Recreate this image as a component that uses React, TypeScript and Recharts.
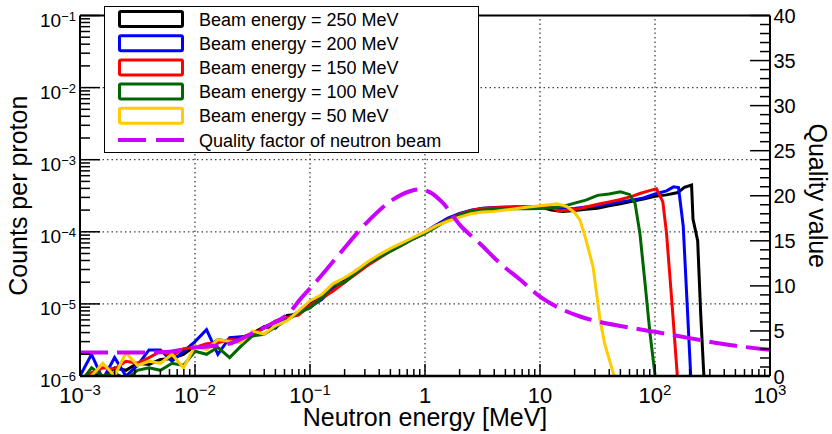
import { ComposedChart, Line, XAxis, YAxis, ReferenceLine, Legend, Label } from "recharts";

const FONT = '"Liberation Sans", Arial, Helvetica, sans-serif';

// bin centres shared by every spectrum up to 10 MeV
const energyGrid = [
  0.001, 0.00126, 0.00158, 0.002, 0.00251, 0.00316, 0.00398, 0.00501, 0.00631, 0.00794,
  0.01, 0.0126, 0.0158, 0.02, 0.0251, 0.0316, 0.0398, 0.0501, 0.0631, 0.0794,
  0.1, 0.126, 0.158, 0.2, 0.251, 0.316, 0.398, 0.501, 0.631, 0.794,
  1, 1.26, 1.58, 2, 2.51, 3.16, 3.98, 5.01, 6.31, 7.94, 10,
];

// counts per proton on energyGrid
const low250 = [
  0.9e-6, 1.1e-6, 0.95e-6, 1.3e-6, 1.2e-6, 1.5e-6, 1.45e-6, 1.7e-6, 1.75e-6, 2.0e-6,
  2.6e-6, 2.4e-6, 3.2e-6, 3.0e-6, 3.4e-6, 3.9e-6, 4.8e-6, 4.6e-6, 6.9e-6, 7.2e-6,
  1.0e-5, 1.3e-5, 1.6e-5, 2.2e-5, 2.8e-5, 3.6e-5, 4.5e-5, 5.6e-5, 6.7e-5, 8.2e-5,
  9.8e-5, 1.21e-4, 1.5e-4, 1.75e-4, 1.96e-4, 2.08e-4, 2.12e-4, 2.15e-4, 2.16e-4, 2.18e-4, 2.2e-4,
];
const low200 = [
  1.0e-6, 2.0e-6, 0.9e-6, 1.8e-6, 1.0e-6, 1.4e-6, 2.3e-6, 2.3e-6, 1.6e-6, 2.2e-6,
  3.0e-6, 4.4e-6, 2.0e-6, 3.4e-6, 3.5e-6, 3.6e-6, 4.8e-6, 5.5e-6, 6.2e-6, 7.8e-6,
  9.0e-6, 1.15e-5, 1.6e-5, 2.0e-5, 2.9e-5, 3.5e-5, 4.6e-5, 5.5e-5, 6.8e-5, 8.2e-5,
  9.9e-5, 1.25e-4, 1.55e-4, 1.8e-4, 2.0e-4, 2.12e-4, 2.18e-4, 2.2e-4, 2.22e-4, 2.22e-4, 2.22e-4,
];
const low150 = [
  0.8e-6, 1.1e-6, 1.3e-6, 1.25e-6, 1.6e-6, 1.5e-6, 1.8e-6, 2.2e-6, 1.9e-6, 2.4e-6,
  2.5e-6, 2.8e-6, 2.9e-6, 3.2e-6, 3.1e-6, 3.8e-6, 4.6e-6, 5.8e-6, 6.5e-6, 7.0e-6,
  9.5e-6, 1.2e-5, 1.5e-5, 2.0e-5, 2.6e-5, 3.4e-5, 4.3e-5, 5.4e-5, 6.6e-5, 8.0e-5,
  9.6e-5, 1.2e-4, 1.48e-4, 1.75e-4, 1.98e-4, 2.1e-4, 2.15e-4, 2.18e-4, 2.2e-4, 2.2e-4, 2.22e-4,
];
const low100 = [
  0.8e-6, 1.3e-6, 1.0e-6, 1.1e-6, 0.9e-6, 1.2e-6, 1.3e-6, 1.2e-6, 1.5e-6, 1.4e-6,
  2.2e-6, 2.0e-6, 2.5e-6, 1.8e-6, 2.6e-6, 3.6e-6, 3.8e-6, 4.8e-6, 6.0e-6, 7.5e-6,
  8.8e-6, 1.2e-5, 1.8e-5, 2.0e-5, 2.7e-5, 3.6e-5, 4.4e-5, 5.4e-5, 6.5e-5, 8.0e-5,
  9.5e-5, 1.18e-4, 1.45e-4, 1.72e-4, 1.92e-4, 2.0e-4, 2.05e-4, 2.08e-4, 2.1e-4, 2.08e-4, 2.1e-4,
];
const low50 = [
  0.7e-6, 1.0e-6, 1.5e-6, 1.0e-6, 2.1e-6, 1.4e-6, 1.6e-6, 1.5e-6, 2.0e-6, 1.3e-6,
  2.6e-6, 2.3e-6, 3.2e-6, 3.0e-6, 2.9e-6, 4.2e-6, 3.8e-6, 5.0e-6, 5.8e-6, 8.0e-6,
  1.1e-5, 1.35e-5, 1.9e-5, 2.3e-5, 2.9e-5, 3.8e-5, 4.8e-5, 5.9e-5, 7.0e-5, 8.4e-5,
  1.0e-4, 1.22e-4, 1.4e-4, 1.6e-4, 1.78e-4, 1.88e-4, 1.92e-4, 2.0e-4, 2.1e-4, 2.2e-4, 2.3e-4,
];

// high-energy part of each spectrum up to its cut-off
const tailE250 = [12.6, 15.8, 20, 25.1, 31.6, 39.8, 50.1, 63.1, 79.4, 100, 126, 158, 180, 208, 214, 235, 250, 268];
const tailC250 = [2.0e-4, 1.92e-4, 1.98e-4, 2.05e-4, 2.12e-4, 2.3e-4, 2.45e-4, 2.65e-4, 2.85e-4, 3.1e-4, 3.25e-4, 3.5e-4, 4.15e-4, 4.45e-4, 1.5e-4, 7.5e-5, 7e-6, 8e-7];
const tailE200 = [12.6, 15.8, 20, 25.1, 31.6, 39.8, 50.1, 63.1, 79.4, 100, 126, 145, 160, 164, 176, 190, 206];
const tailC200 = [2.15e-4, 2.05e-4, 2.1e-4, 2.2e-4, 2.3e-4, 2.45e-4, 2.6e-4, 2.75e-4, 2.95e-4, 3.35e-4, 3.7e-4, 4.2e-4, 4.1e-4, 3.0e-4, 1.2e-4, 1.05e-5, 8e-7];
const tailE150 = [12.6, 14.4, 17.8, 22.3, 28, 33.3, 40, 50, 63, 74, 88, 103, 117, 126, 140, 158];
const tailC150 = [2.2e-4, 1.95e-4, 2.0e-4, 2.1e-4, 2.3e-4, 2.45e-4, 2.6e-4, 2.8e-4, 3.1e-4, 3.4e-4, 3.7e-4, 3.95e-4, 2.6e-4, 9.5e-5, 1.1e-5, 8e-7];
const tailE100 = [12.6, 15.8, 20, 25.1, 31.6, 39.8, 50.1, 60, 67, 74, 82, 90.5, 102];
const tailC100 = [2.15e-4, 2.25e-4, 2.5e-4, 2.75e-4, 3.2e-4, 3.35e-4, 3.6e-4, 3.3e-4, 2.5e-4, 9.4e-5, 1.9e-5, 3.9e-6, 8e-7];
const tailE50 = [12.6, 14, 17, 20, 22.3, 25, 29, 33.3, 36.5, 40, 46];
const tailC50 = [2.4e-4, 2.45e-4, 2.25e-4, 1.85e-4, 1.45e-4, 8e-5, 3.2e-5, 6e-6, 2.8e-6, 1.7e-6, 8e-7];

const beamNames = [
  "Beam energy = 250 MeV",
  "Beam energy = 200 MeV",
  "Beam energy = 150 MeV",
  "Beam energy = 100 MeV",
  "Beam energy = 50 MeV",
];
const beamColors = ["#000000", "#0000ff", "#ff0000", "#006600", "#ffcc00"];
const qualityName = "Quality factor of neutron beam";
const qualityColor = "#cc00ff";

// quality factor (right axis)
const qualityEnergy = [
  0.001, 0.0018, 0.0033, 0.006, 0.0091, 0.0135, 0.02, 0.03, 0.045, 0.067, 0.082, 0.11,
  0.182, 0.31, 0.53, 0.74, 0.9, 1.1, 1.43, 2, 3, 4.5, 6.7, 10, 14.9, 22.3, 33.3, 50,
  100, 200, 367, 1000,
];
const qualityValue = [
  2.6, 2.6, 2.6, 2.7, 3.1, 3.3, 3.6, 4.6, 5.7, 7.1, 8.5, 10.3,
  13.6, 17.0, 19.6, 20.5, 20.7, 20.4, 19.2, 16.8, 14.7, 12.5, 10.7, 8.8, 7.5, 6.6, 6.0, 5.55,
  4.9, 4.2, 3.6, 2.9,
];

const xDecades = [0.001, 0.01, 0.1, 1, 10, 100, 1000];
const xLabelBase = ["10", "10", "10", "1", "10", "10", "10"];
const xLabelExp = ["\u22123", "\u22122", "\u22121", "", "", "2", "3"];
const yDecades = [1e-6, 1e-5, 1e-4, 1e-3, 1e-2, 1e-1];
const yLabelExp = ["\u22126", "\u22125", "\u22124", "\u22123", "\u22122", "\u22121"];
const qMax = 40;

const lows = [low250, low200, low150, low100, low50];
const tailsE = [tailE250, tailE200, tailE150, tailE100, tailE50];
const tailsC = [tailC250, tailC200, tailC150, tailC100, tailC50];

const spectra = beamNames.map((name, s) => {
  const e = [...energyGrid, ...tailsE[s]];
  const c = [...lows[s], ...tailsC[s]];
  return { name, color: beamColors[s], data: e.map((v, i) => ({ e: v, c: c[i] })) };
});
const qualityData = qualityEnergy.map((e, i) => ({ e, q: qualityValue[i] }));

function withMinors(decades: number[]) {
  const out: number[] = [];
  decades.forEach((d, i) => {
    if (i === decades.length - 1) {
      out.push(d);
      return;
    }
    for (let m = 1; m <= 9; m++) out.push(+(m * d).toPrecision(6));
  });
  return out;
}
const xTicks = withMinors(xDecades);
const yTicks = withMinors(yDecades);
const qTicks = Array.from({ length: qMax + 1 }, (_, i) => i);

const isDecade = (v: number) => {
  const l = Math.log10(v);
  return Math.abs(l - Math.round(l)) < 1e-6;
};
const decadeIndex = (list: number[], v: number) =>
  list.findIndex((d) => Math.abs(Math.log10(d) - Math.log10(v)) < 1e-6);

function XTick({ x, y, payload }: any) {
  const v = payload.value;
  const major = isDecade(v);
  const i = decadeIndex(xDecades, v);
  return (
    <g>
      <line x1={x} x2={x} y1={y} y2={y - (major ? 12 : 7)} stroke="#000" strokeWidth={1.5} />
      {major && i >= 0 && (
        <text x={x} y={y + 27} textAnchor="middle" fontFamily={FONT} fontSize={22} fill="#000">
          <tspan>{xLabelBase[i]}</tspan>
          {xLabelExp[i] && (
            <tspan fontSize={15} dy={-8}>
              {xLabelExp[i]}
            </tspan>
          )}
        </text>
      )}
    </g>
  );
}

function LeftTick({ x, y, payload }: any) {
  const v = payload.value;
  const major = isDecade(v);
  const i = decadeIndex(yDecades, v);
  return (
    <g>
      <line x1={x} x2={x + (major ? 20 : 10)} y1={y} y2={y} stroke="#000" strokeWidth={1.5} />
      {major && i >= 0 && (
        <text x={x - 4} y={y + 11} textAnchor="end" fontFamily={FONT} fontSize={19} fill="#000">
          <tspan>10</tspan>
          <tspan fontSize={13} dy={-6}>
            {yLabelExp[i]}
          </tspan>
        </text>
      )}
    </g>
  );
}

function RightTick({ x, y, payload }: any) {
  const v = payload.value;
  const major = v % 5 === 0;
  return (
    <g>
      <line x1={x} x2={x - (major ? 20 : 10)} y1={y} y2={y} stroke="#000" strokeWidth={1.5} />
      {major && (
        <text x={x + 3.5} y={y + 7.5} textAnchor="start" fontFamily={FONT} fontSize={20} fill="#000">
          {v}
        </text>
      )}
    </g>
  );
}

function LegendBox() {
  const rows = [...spectra.map((s) => ({ name: s.name, color: s.color, dashed: false })),
    { name: qualityName, color: qualityColor, dashed: true }];
  return (
    <svg width={375} height={147} style={{ display: "block" }}>
      <rect x={0.5} y={0.5} width={374} height={146} fill="#fff" stroke="#000" strokeWidth={1} />
      {rows.map((r, i) => {
        const cy = 13 + i * 24.2;
        return (
          <g key={r.name}>
            {r.dashed ? (
              <line x1={14} x2={80} y1={cy} y2={cy} stroke={r.color} strokeWidth={4} strokeDasharray="28 10" />
            ) : (
              <rect x={15.5} y={cy - 7.5} width={63} height={15} rx={1.5} fill="#fff" stroke={r.color} strokeWidth={3} />
            )}
            <text x={95} y={cy + 6.5} fontFamily={FONT} fontSize={18} fill="#000">
              {r.name}
            </text>
          </g>
        );
      })}
    </svg>
  );
}

export default function App() {
  return (
    <div style={{ position: "absolute", left: 0, top: 0, background: "#fff" }}>
      <ComposedChart width={832} height={434} margin={{ top: 15.5, right: 0, bottom: 0, left: 0 }}>
        <XAxis
          dataKey="e"
          type="number"
          scale="log"
          domain={[0.001, 1000]}
          allowDataOverflow
          ticks={xTicks}
          interval={0}
          height={58}
          tickSize={0}
          tickMargin={0}
          tickLine={false}
          axisLine={{ stroke: "#000", strokeWidth: 2.5 }}
          tick={<XTick />}
        >
          <Label
            content={({ viewBox }: any) => (
              <text x={viewBox.x + viewBox.width / 2} y={viewBox.y + 50} textAnchor="middle" fontFamily={FONT} fontSize={25} fill="#000">
                Neutron energy [MeV]
              </text>
            )}
          />
        </XAxis>
        <YAxis
          yAxisId="left"
          type="number"
          scale="log"
          domain={[1e-6, 0.1]}
          allowDataOverflow
          ticks={yTicks}
          interval={0}
          width={80}
          tickSize={0}
          tickMargin={0}
          tickLine={false}
          axisLine={{ stroke: "#000", strokeWidth: 2 }}
          tick={<LeftTick />}
        >
          <Label
            content={({ viewBox }: any) => {
              const cx = viewBox.x + 27;
              const cy = viewBox.y + viewBox.height / 2;
              return (
                <text x={cx} y={cy} transform={`rotate(-90, ${cx}, ${cy})`} textAnchor="middle" fontFamily={FONT} fontSize={25} fill="#000">
                  Counts per proton
                </text>
              );
            }}
          />
        </YAxis>
        <YAxis
          yAxisId="right"
          orientation="right"
          type="number"
          domain={[0, qMax]}
          allowDataOverflow
          ticks={qTicks}
          interval={0}
          width={62}
          tickSize={0}
          tickMargin={0}
          tickLine={false}
          axisLine={{ stroke: "#000", strokeWidth: 2 }}
          tick={<RightTick />}
        >
          <Label
            content={({ viewBox }: any) => {
              const cx = viewBox.x + 39;
              const cy = viewBox.y + viewBox.height / 2;
              return (
                <text x={cx} y={cy} transform={`rotate(90, ${cx}, ${cy})`} textAnchor="middle" fontFamily={FONT} fontSize={25} fill="#000">
                  Quality value
                </text>
              );
            }}
          />
        </YAxis>

        {xDecades.slice(1, -1).map((d) => (
          <ReferenceLine key={`gx${d}`} x={d} yAxisId="left" stroke="#444" strokeWidth={1.3} strokeDasharray="1.5 3" />
        ))}
        {yDecades.slice(1, -1).map((d) => (
          <ReferenceLine key={`gy${d}`} y={d} yAxisId="left" stroke="#444" strokeWidth={1.3} strokeDasharray="1.5 3" />
        ))}
        <ReferenceLine y={0.1} yAxisId="left" stroke="#000" strokeWidth={2} />

        {spectra.map((s) => (
          <Line
            key={s.name}
            data={s.data}
            dataKey="c"
            yAxisId="left"
            type="linear"
            stroke={s.color}
            strokeWidth={3}
            dot={false}
            isAnimationActive={false}
          />
        ))}
        <Line
          data={qualityData}
          dataKey="q"
          yAxisId="right"
          type="monotone"
          stroke={qualityColor}
          strokeWidth={4}
          strokeDasharray="28 9"
          dot={false}
          isAnimationActive={false}
        />
        <Legend
          layout="vertical"
          align="center"
          verticalAlign="middle"
          wrapperStyle={{ left: 104, top: 6, width: 375, height: 147 }}
          content={() => <LegendBox />}
        />
      </ComposedChart>
    </div>
  );
}
